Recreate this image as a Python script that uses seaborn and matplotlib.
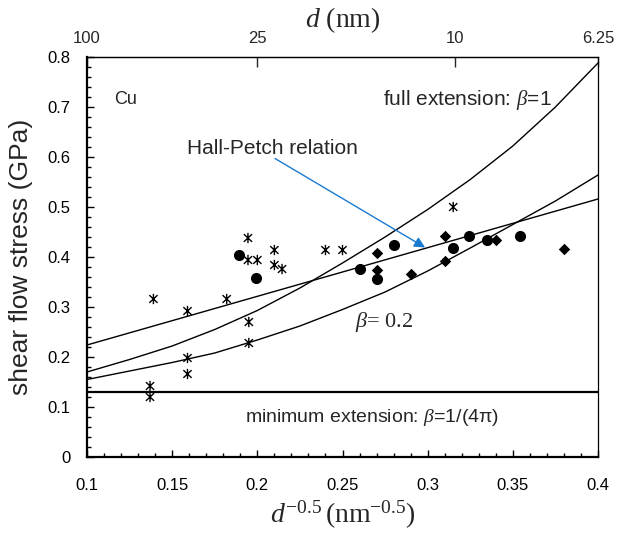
import numpy as np
import matplotlib
matplotlib.use("Agg")
import matplotlib.pyplot as plt
from matplotlib.path import Path
from matplotlib.ticker import MultipleLocator
import seaborn as sns

# ---- data ----
star_x = [0.137, 0.137, 0.139, 0.159, 0.159, 0.159, 0.182, 0.195, 0.195,
          0.1945, 0.1945, 0.200, 0.210, 0.210, 0.2145, 0.240, 0.250, 0.315]
star_y = [0.120, 0.142, 0.316, 0.292, 0.198, 0.166, 0.316, 0.270, 0.228,
          0.438, 0.394, 0.394, 0.414, 0.384, 0.376, 0.414, 0.414, 0.500]

circle_x = [0.189, 0.199, 0.260, 0.270, 0.280, 0.315, 0.324, 0.335, 0.354]
circle_y = [0.404, 0.358, 0.376, 0.356, 0.424, 0.418, 0.442, 0.434, 0.442]

diamond_x = [0.270, 0.270, 0.290, 0.310, 0.310, 0.340, 0.380]
diamond_y = [0.408, 0.374, 0.366, 0.442, 0.392, 0.434, 0.416]

curve_x = [0.1, 0.125, 0.15, 0.175, 0.2, 0.225, 0.25, 0.275, 0.3, 0.325, 0.35, 0.375, 0.4]
beta1_y = [0.170, 0.195, 0.222, 0.255, 0.293, 0.338, 0.388, 0.440, 0.495, 0.555, 0.622, 0.700, 0.788]
beta02_y = [0.155, 0.172, 0.189, 0.208, 0.234, 0.262, 0.295, 0.330, 0.372, 0.418, 0.465, 0.512, 0.564]

hp_x = [0.1, 0.4]
hp_y = [0.224, 0.516]

min_ext = 0.13

x_ticks = [0.1, 0.15, 0.2, 0.25, 0.3, 0.35, 0.4]
x_labels = ["0.1", "0.15", "0.2", "0.25", "0.3", "0.35", "0.4"]
y_ticks = [0, 0.1, 0.2, 0.3, 0.4, 0.5, 0.6, 0.7, 0.8]
y_labels = ["0", "0.1", "0.2", "0.3", "0.4", "0.5", "0.6", "0.7", "0.8"]

top_d = [100, 25, 10, 6.25]
top_labels = ["100", "25", "10", "6.25"]

# ---- style ----
sns.set_theme(style="ticks")
plt.rcParams['font.family'] = ['Liberation Sans', 'DejaVu Sans']
plt.rcParams['mathtext.fontset'] = 'custom'
plt.rcParams['mathtext.rm'] = 'Liberation Serif'
plt.rcParams['mathtext.it'] = 'Liberation Serif:italic'
plt.rcParams['mathtext.bf'] = 'Liberation Serif:bold'

fig = plt.figure(figsize=(6.17, 5.38), dpi=100)
ax = fig.add_axes([87 / 617, 1 - 457 / 538, (598 - 87) / 617, (457 - 57) / 538])

# asterisk marker: X with a vertical bar
star = Path([(0, -1), (0, 1), (-0.8, -0.75), (0.8, 0.75), (-0.8, 0.75), (0.8, -0.75)],
            [Path.MOVETO, Path.LINETO] * 3)

# curves
sns.lineplot(x=curve_x, y=beta1_y, color='black', lw=1.0, ax=ax)
sns.lineplot(x=curve_x, y=beta02_y, color='black', lw=1.0, ax=ax)
sns.lineplot(x=hp_x, y=hp_y, color='black', lw=1.0, ax=ax)
ax.axhline(min_ext, color='black', lw=1.6)

# points
sns.scatterplot(x=star_x, y=star_y, marker=star, s=55, facecolor='none',
                edgecolor='black', linewidth=1.0, ax=ax, zorder=3)
sns.scatterplot(x=circle_x, y=circle_y, marker='o', s=64, color='black',
                edgecolor='black', linewidth=0, ax=ax, zorder=3)
sns.scatterplot(x=diamond_x, y=diamond_y, marker='D', s=34, color='black',
                edgecolor='black', linewidth=0, ax=ax, zorder=3)

ax.set_xticks(x_ticks, x_labels)
ax.set_yticks(y_ticks, y_labels)
ax.xaxis.set_minor_locator(MultipleLocator(0.01))
ax.yaxis.set_minor_locator(MultipleLocator(0.02))
ax.set_xlim(0.1, 0.4)
ax.set_ylim(0, 0.8)

ax.tick_params(which='both', direction='in', top=False, right=False, colors='black', width=1.0)
ax.tick_params(which='major', length=5)
ax.tick_params(which='minor', length=3)
ax.tick_params(axis='x', which='major', pad=15, labelsize=12)
ax.tick_params(axis='y', which='major', pad=12, labelsize=12)

for side in ['left', 'bottom']:
    ax.spines[side].set_linewidth(1.6)
for side in ['top', 'right']:
    ax.spines[side].set_linewidth(0.9)
for s in ax.spines.values():
    s.set_color('black')

ax.set_ylabel("shear flow stress (GPa)", fontsize=19, labelpad=10)
ax.set_xlabel(r"$d^{\mathrm{-0.5}}\,(\mathrm{nm}^{\mathrm{-0.5}})$", fontsize=20, labelpad=4)

# top axis in grain size
secax = ax.secondary_xaxis('top')
secax.set_xticks(np.array(top_d, dtype=float) ** -0.5, top_labels)
secax.tick_params(direction='in', length=7, width=1.0, pad=8, labelsize=12)
secax.spines['top'].set_linewidth(0.9)
secax.set_xlabel(r"$d$ (nm)", fontsize=20, family='Liberation Serif', labelpad=3)

# annotations
ax.text(0.116, 0.715, "Cu", fontsize=13, ha='left', va='center')
ax.text(0.373, 0.714, r"full extension: $\beta$=1", fontsize=15, ha='right', va='center')
ax.text(0.259, 0.618, "Hall-Petch relation", fontsize=15, ha='right', va='center')
ax.text(0.2574, 0.271, r"$\beta$= 0.2", fontsize=16, family='Liberation Serif', ha='left', va='center')
ax.text(0.1928, 0.078, r"minimum extension: $\beta$=1/(4π)", fontsize=14, ha='left', va='center')
ax.annotate("", xy=(0.2985, 0.419), xytext=(0.2104, 0.597),
            arrowprops=dict(arrowstyle='-|>', color='#1a7ad0', lw=1.0,
                            mutation_scale=16, shrinkA=0, shrinkB=0))

fig.savefig("out.png", dpi=100)
